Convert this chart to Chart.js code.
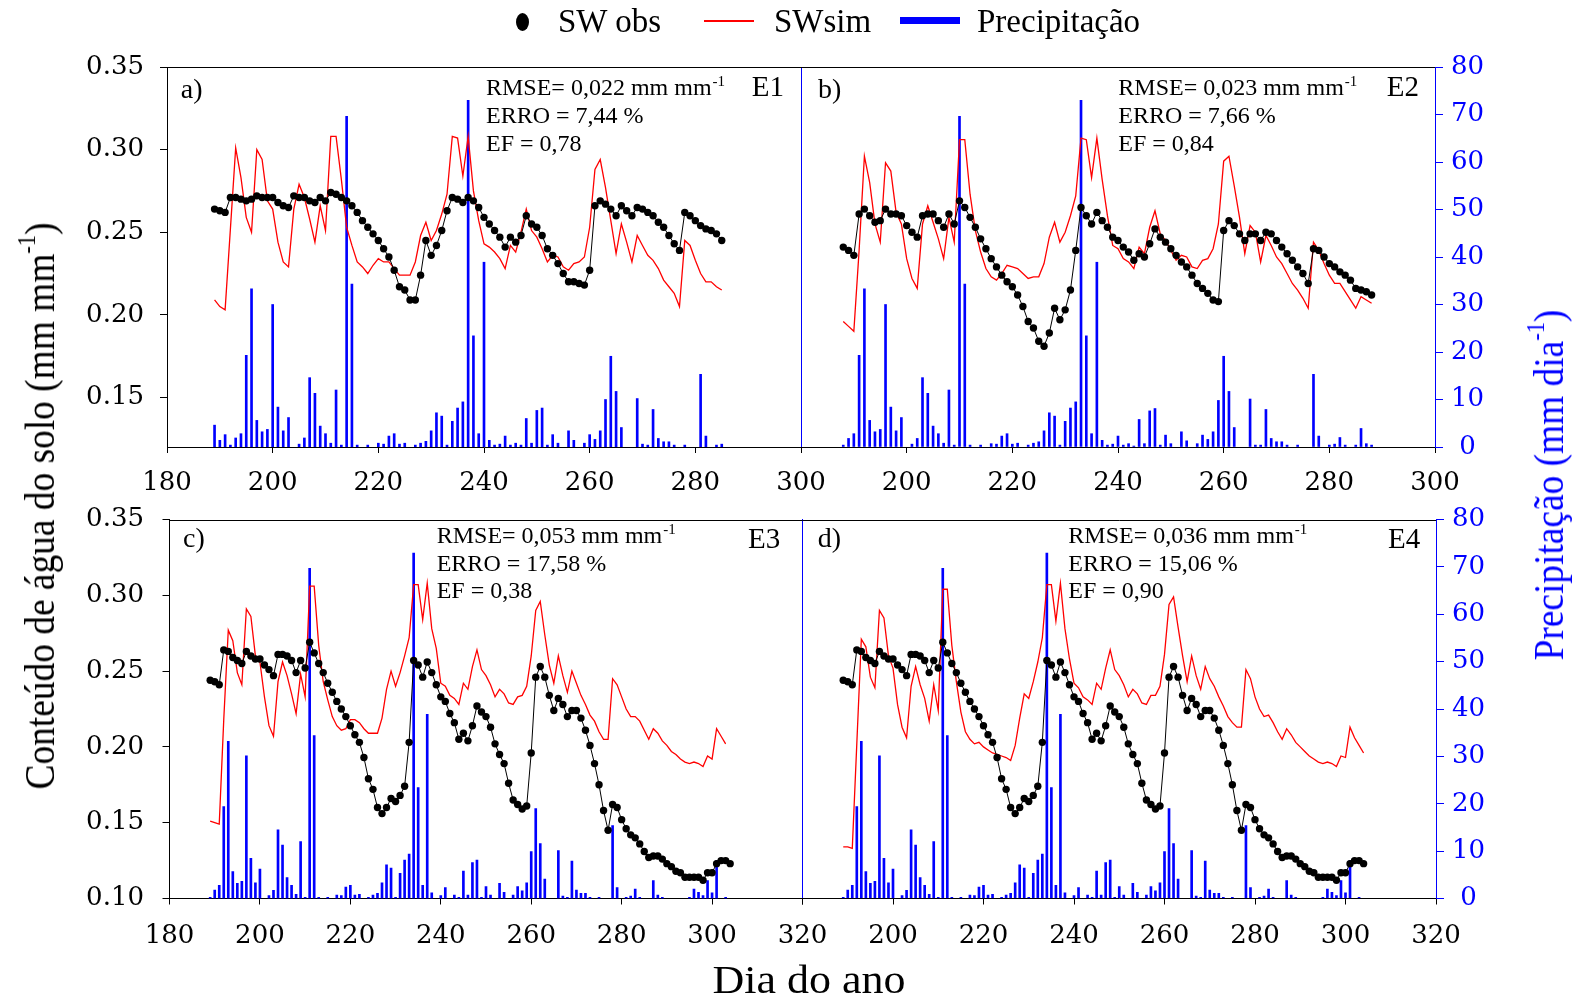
<!DOCTYPE html>
<html><head><meta charset="utf-8">
<script src="https://cdn.jsdelivr.net/npm/chart.js@4"></script>
<style>
html,body{margin:0;padding:0;background:#fff;}
body{width:1577px;height:1000px;position:relative;overflow:hidden;font-family:'Liberation Serif','Times New Roman',serif;}
canvas{position:absolute;left:0;top:0;}
.t{position:absolute;white-space:nowrap;line-height:1;}
.sup{font-size:0.6em;position:relative;top:-0.75em;}
</style></head><body>
<canvas id="ca" width="1577" height="1000"></canvas>
<canvas id="cb" width="1577" height="1000"></canvas>
<canvas id="cc" width="1577" height="1000"></canvas>
<canvas id="cd" width="1577" height="1000"></canvas>

<div class="t" style="left:516px;top:13px;width:13px;height:18px;border-radius:50%;background:#000;"></div>
<div class="t" style="left:558px;top:5.4px;font-size:33px;">SW obs</div>
<div class="t" style="left:704px;top:20px;width:50px;height:1.5px;background:#ff0000;"></div>
<div class="t" style="left:774px;top:5.4px;font-size:33px;">SWsim</div>
<div class="t" style="left:900px;top:17px;width:60px;height:7px;background:#0000ff;"></div>
<div class="t" style="left:977px;top:5.4px;font-size:33px;">Precipitação</div>

<div class="t" style="left:40px;top:506px;font-size:42px;transform:translate(-50%,-50%) rotate(-90deg) scaleX(0.89);">Conteúdo de água do solo (mm mm<span class="sup">-1</span>)</div>
<div class="t" style="left:1549px;top:485px;font-size:42px;color:#0000ff;transform:translate(-50%,-50%) rotate(-90deg) scaleX(0.89);">Precipitação (mm dia<span class="sup">-1</span>)</div>
<div class="t" style="left:808.6px;top:959.5px;font-size:40px;transform:translateX(-50%) scaleX(1.1);">Dia do ano</div>

<script>
// ---------- tick labels ----------
const dayTicksTop = [180, 200, 220, 240, 260, 280, 300];
const dayTicksBottom = [180, 200, 220, 240, 260, 280, 300, 320];
const swTicksTop = [0.15, 0.20, 0.25, 0.30, 0.35];
const swTicksBottom = [0.10, 0.15, 0.20, 0.25, 0.30, 0.35];
const precipTicks = [0, 10, 20, 30, 40, 50, 60, 70, 80];

// ---------- E1 ----------
const daysA = [189,190,191,192,193,194,195,196,197,198,199,200,201,202,203,204,205,206,207,208,209,210,211,212,213,214,215,216,217,218,219,220,221,222,223,224,225,226,227,228,229,230,231,232,233,234,235,236,237,238,239,240,241,242,243,244,245,246,247,248,249,250,251,252,253,254,255,256,257,258,259,260,261,262,263,264,265,266,267,268,269,270,271,272,273,274,275,276,277,278,279,280,281,282,283,284,285];
const obsA = [.264,.263,.262,.271,.271,.270,.269,.270,.272,.271,
.271,.271,.268,.266,.265,.272,.271,.271,.269,.268,
.271,.269,.274,.273,.271,.269,.266,.262,.257,.253,
.249,.245,.240,.235,.227,.217,.215,.209,.209,.224,
.245,.236,.242,.251,.263,.271,.270,.268,.271,.269,
.265,.259,.255,.251,.247,.241,.247,.244,.248,.260,
.255,.253,.248,.240,.236,.231,.225,.220,.220,.219,
.218,.227,.266,.269,.267,.264,.260,.266,.263,.260,
.265,.264,.262,.260,.256,.253,.248,.243,.239,.262,
.260,.257,.254,.252,.251,.249,.245];
const simA = [.209,.205,.203,.252,.301,.283,.259,.250,.300,.294,
.269,.264,.244,.232,.229,.264,.279,.271,.258,.244,
.266,.251,.308,.308,.282,.253,.242,.232,.229,.225,
.230,.234,.232,.232,.228,.224,.224,.224,.232,.248,
.256,.245,.251,.261,.273,.308,.307,.284,.308,.275,
.257,.243,.241,.238,.234,.228,.242,.238,.250,.264,
.251,.247,.240,.232,.236,.235,.229,.227,.231,.232,
.235,.253,.288,.294,.277,.257,.237,.255,.244,.232,
.248,.242,.236,.233,.228,.221,.217,.213,.205,.245,
.242,.233,.225,.220,.220,.217,.215];
const precipA = [4.6,1.4,2.6,0.4,1.9,2.8,19.3,33.3,5.6,3.2,
3.7,30.0,8.4,3.4,6.2,0,0.6,1.9,14.6,11.3,
4.4,2.8,0.8,12.0,0.4,69.6,34.3,0.4,0,0.4,
0,0.8,0.6,2.3,2.8,0.6,0.8,0,0.4,0.8,
1.2,3.4,7.2,6.5,0.4,5.4,8.2,9.5,73.0,23.4,
2.8,38.9,1.4,0.4,0.6,2.3,0.4,0.8,0.4,6.0,
0.8,7.7,8.2,0.4,2.6,0.8,0,3.4,1.4,0,
0.8,2.6,1.6,3.4,10.0,19.1,11.7,4.1,0,0,
10.2,0.6,0.4,7.9,1.8,1.1,1.1,0.4,0,0.4,
0,0,15.3,2.3,0,0.4,0.6];

// ---------- E2 ----------
const daysB = [188,189,190,191,192,193,194,195,196,197,198,199,200,201,202,203,204,205,206,207,208,209,210,211,212,213,214,215,216,217,218,219,220,221,222,223,224,225,226,227,228,229,230,231,232,233,234,235,236,237,238,239,240,241,242,243,244,245,246,247,248,249,250,251,252,253,254,255,256,257,258,259,260,261,262,263,264,265,266,267,268,269,270,271,272,273,274,275,276,277,278,279,280,281,282,283,284,285,286,287,288];
const obsB = [.241,.239,.236,.261,.264,.260,.256,.257,.264,.261,
.261,.260,.254,.250,.247,.260,.261,.261,.257,.253,
.261,.255,.269,.265,.259,.253,.246,.240,.234,.229,
.224,.220,.217,.212,.205,.196,.192,.184,.181,.189,
.204,.197,.203,.215,.239,.265,.260,.255,.262,.257,
.253,.247,.245,.241,.238,.233,.237,.235,.243,.252,
.247,.244,.240,.236,.232,.229,.224,.219,.216,.213,
.209,.208,.251,.257,.254,.249,.245,.249,.249,.245,
.250,.249,.245,.241,.237,.233,.229,.225,.219,.240,
.239,.235,.231,.229,.226,.224,.221,.216,.215,.214,
.212];
const simB = [.196,.193,.190,.239,.296,.280,.255,.244,.292,.287,
.262,.255,.234,.222,.216,.255,.266,.256,.246,.234,
.259,.244,.306,.306,.273,.251,.238,.228,.223,.221,
.225,.230,.229,.228,.225,.222,.223,.223,.231,.247,
.256,.244,.250,.260,.272,.307,.306,.283,.307,.282,
.260,.242,.240,.234,.232,.228,.241,.237,.253,.263,
.249,.245,.239,.233,.236,.235,.229,.228,.233,.234,
.240,.255,.293,.296,.278,.259,.237,.254,.250,.232,
.248,.242,.235,.231,.225,.219,.215,.210,.204,.244,
.239,.231,.224,.219,.219,.214,.209,.204,.211,.209,
.207];
const precipB = [0.4,1.8,2.8,19.3,33.3,5.6,3.2,3.7,30.0,8.4,
3.4,6.2,0,0.6,1.8,14.6,11.3,4.4,2.8,0.8,
12.0,0.4,69.6,34.3,0.4,0,0.4,0,0.7,0.6,
2.3,2.8,0.6,0.8,0,0.4,0.8,1.1,3.4,7.2,
6.5,0.4,5.4,8.2,9.5,73.0,23.4,2.8,38.9,1.4,
0.4,0.6,2.3,0.4,0.7,0.2,5.8,0.7,7.6,8.1,
0.4,2.5,0.7,0,3.2,1.3,0,0.7,2.5,1.6,
3.2,9.8,19.1,11.7,4.1,0,0,10.1,0.4,0.4,
7.9,1.8,1.1,1.1,0.4,0,0.4,0,0,15.3,
2.3,0,0.4,0.6,2.0,0.4,0,0.4,3.9,0.7,
0.4];

// ---------- E3 / E4 (same observations and rain) ----------
const daysCD = [189,190,191,192,193,194,195,196,197,198,199,200,201,202,203,204,205,206,207,208,209,210,211,212,213,214,215,216,217,218,219,220,221,222,223,224,225,226,227,228,229,230,231,232,233,234,235,236,237,238,239,240,241,242,243,244,245,246,247,248,249,250,251,252,253,254,255,256,257,258,259,260,261,262,263,264,265,266,267,268,269,270,271,272,273,274,275,276,277,278,279,280,281,282,283,284,285,286,287,288,289,290,291,292,293,294,295,296,297,298,299,300,301,302,303,304];
const obsCD = [.244,.243,.241,.264,.263,.259,.257,.255,.263,.260,
.258,.258,.254,.251,.247,.261,.261,.260,.257,.249,
.257,.252,.269,.262,.255,.249,.242,.236,.230,.225,
.220,.214,.208,.203,.193,.179,.172,.160,.156,.160,
.166,.164,.168,.174,.203,.257,.254,.246,.256,.249,
.241,.233,.230,.222,.216,.205,.209,.204,.214,.227,
.223,.220,.213,.202,.195,.189,.176,.165,.162,.159,
.161,.196,.246,.253,.246,.234,.224,.232,.228,.220,
.224,.224,.219,.211,.201,.189,.175,.158,.145,.162,
.160,.152,.146,.142,.140,.136,.131,.127,.128,.128,
.126,.123,.121,.118,.117,.114,.114,.114,.114,.112,
.117,.117,.123,.125,.125,.123];
const simC = [.151,.150,.149,.218,.277,.270,.249,.241,.291,.286,
.260,.256,.233,.214,.207,.243,.256,.247,.235,.222,
.248,.233,.306,.306,.267,.243,.231,.220,.214,.211,
.212,.218,.218,.216,.212,.209,.209,.209,.219,.238,
.250,.240,.249,.260,.272,.307,.307,.284,.308,.278,
.265,.242,.240,.234,.232,.228,.242,.238,.253,.264,
.251,.247,.241,.233,.238,.235,.229,.228,.233,.234,
.240,.260,.290,.296,.274,.254,.242,.260,.247,.236,
.250,.242,.234,.228,.221,.217,.210,.205,.205,.245,
.241,.233,.225,.220,.220,.217,.211,.205,.212,.209,
.204,.201,.197,.195,.192,.190,.189,.190,.189,.187,
.194,.192,.212,.207,.202,null];
const simD = [.134,.134,.133,.202,.271,.266,.246,.239,.290,.285,
.260,.252,.228,.213,.206,.240,.253,.241,.232,.217,
.241,.224,.304,.304,.267,.243,.223,.210,.205,.202,
.203,.200,.198,.196,.195,.194,.193,.191,.201,.219,
.235,.232,.243,.256,.272,.307,.307,.283,.308,.278,
.258,.242,.239,.233,.231,.228,.242,.238,.252,.264,
.251,.247,.241,.233,.238,.235,.229,.228,.234,.234,
.240,.261,.294,.299,.279,.260,.243,.260,.247,.238,
.253,.245,.240,.233,.227,.220,.216,.213,.213,.251,
.245,.233,.225,.220,.221,.216,.210,.205,.212,.208,
.203,.200,.197,.194,.192,.190,.189,.190,.189,.187,
.194,.193,.213,.206,.201,.196];
const precipCD = [0.25,1.8,2.8,19.4,33.2,5.7,3.2,3.6,30.1,8.5,
3.3,6.2,0,0.6,1.7,14.5,11.3,4.4,2.8,0.9,
12.0,0.25,69.7,34.4,0.25,0,0.25,0,0.7,0.6,
2.4,2.8,0.7,0.9,0,0.25,0.7,1.1,3.3,7.1,
6.4,0.25,5.3,8.1,9.4,72.9,23.4,2.8,38.9,1.2,
0,0.6,2.3,0,0.7,0.25,5.8,0.7,7.6,8.1,
0.25,2.5,0.7,0,3.2,1.3,0,0.7,2.5,1.6,
3.3,9.9,19.0,11.6,4.1,0,0,10.1,0.5,0.25,
7.9,1.8,1.1,1.1,0.25,0,0.25,0,0,15.4,
2.3,0,0.25,0.5,2.0,0.25,0,0,3.8,0.7,
0.25,0,0,0,0,0,0.25,2.0,1.3,0.6,
3.8,1.2,8.0,0,0.25,0];

const statsA = ['RMSE= 0,022 mm mm', 'ERRO = 7,44 %', 'EF = 0,78'];
const statsB = ['RMSE= 0,023 mm mm', 'ERRO = 7,66 %', 'EF = 0,84'];
const statsC = ['RMSE= 0,053 mm mm', 'ERRO = 17,58 %', 'EF = 0,38'];
const statsD = ['RMSE= 0,036 mm mm', 'ERRO = 15,06 %', 'EF = 0,90'];

// ---------- drawing ----------
const BLUE = '#0000ff', RED = '#ff0000';
const tickFont = {family: "'DejaVu Serif'", size: 26};
const SERIF = '"Liberation Serif", "Times New Roman", serif';

function pts(days, vals) { return days.map((d, i) => ({x: d, y: vals[i]})); }
function barPts(days, vals) { return days.map((d, i) => ({x: d, y: vals[i]})).filter(p => p.y > 0); }
function fix(prop, size) {
  return (s) => { s[prop] = size; s.paddingLeft = 0; s.paddingRight = 0; s.paddingTop = 0; s.paddingBottom = 0; };
}
function setTicks(list) { return (s) => { s.ticks = list.map(v => ({value: v})); }; }

function decoPlugin(cfg) {
  return {
    id: 'deco' + cfg.id,
    afterDraw(chart) {
      const ctx = chart.ctx, a = chart.chartArea;
      ctx.save();
      ctx.strokeStyle = '#000'; ctx.lineWidth = 1;
      const ty = Math.round(a.top) + 0.5;
      ctx.beginPath(); ctx.moveTo(a.left, ty); ctx.lineTo(a.right, ty); ctx.stroke();
      ctx.fillStyle = '#000'; ctx.textBaseline = 'alphabetic'; ctx.textAlign = 'left';
      ctx.font = '28px ' + SERIF; ctx.fillText(cfg.tag, cfg.tagX, cfg.tagY);
      ctx.font = '29px ' + SERIF; ctx.fillText(cfg.exp, cfg.expX, cfg.expY);
      cfg.stats.forEach((s, i) => {
        const y = cfg.statY + i * cfg.statGap;
        ctx.font = '24px ' + SERIF; ctx.fillText(s, cfg.statX, y);
        if (i === 0) {
          const w = ctx.measureText(s).width;
          ctx.font = '15px ' + SERIF; ctx.fillText('-1', cfg.statX + w + 1, y - 9);
        }
      });
      ctx.restore();
    }
  };
}

function makePanel(cfg) {
  new Chart(document.getElementById(cfg.id), {
    type: 'bar',
    data: {datasets: [
      {type: 'line', label: 'SW obs', data: pts(cfg.days, cfg.obs), yAxisID: 'y', order: 1,
       borderColor: '#000', borderWidth: 1, pointRadius: 3.7, pointBackgroundColor: '#000',
       pointBorderColor: '#000', pointBorderWidth: 0, tension: 0},
      {type: 'line', label: 'SWsim', data: pts(cfg.days, cfg.sim), yAxisID: 'y', order: 2,
       borderColor: RED, borderWidth: 1.3, pointRadius: 0, tension: 0},
      {type: 'bar', label: 'Precipitação', data: barPts(cfg.days, cfg.precip), yAxisID: 'y1', order: 3,
       backgroundColor: BLUE, borderWidth: 0, barThickness: 2}
    ]},
    options: {
      responsive: false, animation: false, devicePixelRatio: 1,
      layout: {padding: cfg.pad},
      plugins: {legend: {display: false}, tooltip: {enabled: false}},
      scales: {
        x: {type: 'linear', position: 'bottom', min: 180, max: cfg.xMax, offset: false,
            afterBuildTicks: setTicks(cfg.xTicks), afterFit: fix('height', 60),
            ticks: {autoSkip: false, maxRotation: 0, color: '#000', font: tickFont, padding: cfg.xPad,
                    callback: (v) => (cfg.hideFirst && v === 180) ? '' : String(v)},
            grid: {display: true, offset: false, drawOnChartArea: false, tickLength: 6, color: '#000', lineWidth: 1},
            border: {display: true, color: '#000', width: 1}},
        y: {type: 'linear', position: 'left', min: cfg.swMin, max: 0.35,
            afterBuildTicks: setTicks(cfg.swTicks), afterFit: fix('width', cfg.showLeft ? 100 : 30),
            ticks: {display: cfg.showLeft, color: '#000', font: tickFont, padding: cfg.leftPad,
                    callback: (v) => Number(v).toFixed(2)},
            grid: {display: cfg.showLeft, drawOnChartArea: false, tickLength: 7, color: '#000', lineWidth: 1},
            border: {display: cfg.showLeft, color: '#000', width: 1}},
        y1: {type: 'linear', position: 'right', min: 0, max: 80, beginAtZero: true,
             afterBuildTicks: setTicks(precipTicks), afterFit: fix('width', cfg.showRight ? 80 : 30),
             ticks: {display: cfg.showRight, color: BLUE, font: tickFont, padding: 8, crossAlign: 'center'},
             grid: {display: cfg.showRight, drawOnChartArea: false, tickLength: 8, color: BLUE, lineWidth: 1},
             border: {display: true, color: BLUE, width: 1}}
      }
    },
    plugins: [decoPlugin(cfg)]
  });
}

makePanel({id: 'ca', days: daysA, obs: obsA, sim: simA, precip: precipA,
  xMax: 300, xTicks: dayTicksTop, swMin: 0.12, swTicks: swTicksTop,
  showLeft: true, showRight: false, hideFirst: false, leftPad: 16, xPad: 14.5,
  pad: {left: 67, right: 746, top: 67, bottom: 493},
  tag: 'a)', tagX: 180.7, tagY: 98, exp: 'E1', expX: 751.7, expY: 95.5,
  stats: statsA, statX: 486, statY: 94.5, statGap: 28});
makePanel({id: 'cb', days: daysB, obs: obsB, sim: simB, precip: precipB,
  xMax: 300, xTicks: dayTicksTop, swMin: 0.12, swTicks: swTicksTop,
  showLeft: false, showRight: true, hideFirst: true, leftPad: 16, xPad: 14.5,
  pad: {left: 771, right: 62, top: 67, bottom: 493},
  tag: 'b)', tagX: 818, tagY: 98, exp: 'E2', expX: 1386.7, expY: 95.5,
  stats: statsB, statX: 1118.3, statY: 94.5, statGap: 28});
makePanel({id: 'cc', days: daysCD, obs: obsCD, sim: simC, precip: precipCD,
  xMax: 320, xTicks: dayTicksBottom, swMin: 0.10, swTicks: swTicksBottom,
  showLeft: true, showRight: false, hideFirst: false, leftPad: 18.5, xPad: 16.5,
  pad: {left: 69.5, right: 744.5, top: 519.5, bottom: 41.5},
  tag: 'c)', tagX: 183, tagY: 546.7, exp: 'E3', expX: 748, expY: 548.3,
  stats: statsC, statX: 436.7, statY: 543.3, statGap: 27.5});
makePanel({id: 'cd', days: daysCD, obs: obsCD, sim: simD, precip: precipCD,
  xMax: 320, xTicks: dayTicksBottom, swMin: 0.10, swTicks: swTicksBottom,
  showLeft: false, showRight: true, hideFirst: true, leftPad: 16, xPad: 16.5,
  pad: {left: 772.5, right: 61, top: 519.5, bottom: 41.5},
  tag: 'd)', tagX: 817.7, tagY: 546.7, exp: 'E4', expX: 1388, expY: 548.3,
  stats: statsD, statX: 1068.3, statY: 543.3, statGap: 27.5});
</script>
</body></html>
